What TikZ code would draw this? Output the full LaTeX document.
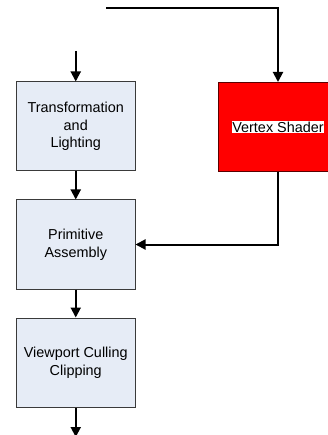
\documentclass[tikz,border=0pt]{standalone}
\usepackage{fontspec}
\setmainfont{Liberation Sans}
\usetikzlibrary{arrows.meta}
\definecolor{stagefill}{HTML}{E6ECF6}
\definecolor{stageline}{HTML}{3A3A3A}
\definecolor{shaderline}{HTML}{5A0000}
\tikzset{
  stage/.style={draw=stageline, line width=1pt, fill=stagefill,
    minimum width=118.5pt, minimum height=89pt, align=center,
    font=\fontsize{14.4pt}{17.6pt}\selectfont, inner sep=0pt},
  shader/.style={stage, fill=red, draw=shaderline},
  flow/.style={line width=2pt, -{Triangle[length=10pt,width=10pt]}},
  plain/.style={line width=2pt}
}
\begin{document}
\begin{tikzpicture}[x=1pt,y=-1pt]
  \useasboundingbox (0,0) rectangle (328,435);
  \clip (0,0) rectangle (328,435);
  % pipeline stages
  \node[stage] (tl) at (75.75,126.5) {Transformation\\and\\Lighting};
  \node[stage] (pa) at (75.75,244.5) {Primitive\\Assembly};
  \node[stage] (vc) at (75.75,362.5) {Viewport Culling\\Clipping};
  % programmable replacement stage
  \node[shader] (vs) at (278,127) {};
  \node[fill=white, inner sep=0.6pt, font=\fontsize{14.4pt}{17.6pt}\selectfont] (vslabel) at (vs.center) {Vertex Shader};
  % free ends
  \coordinate (src) at (106,8);
  \coordinate (tlin) at (75.75,51);
  \coordinate (out) at (75.75,437);
  % connectors
  \draw[flow] (src) -| (vs.north);
  \draw[flow] (tlin) -- (tl.north);
  \draw[flow] (tl.south) -- (pa.north);
  \draw[flow] (vs.south) |- (pa.east);
  \draw[flow] (pa.south) -- (vc.north);
  \draw[flow] (vc.south) -- (out);
\end{tikzpicture}
\end{document}
